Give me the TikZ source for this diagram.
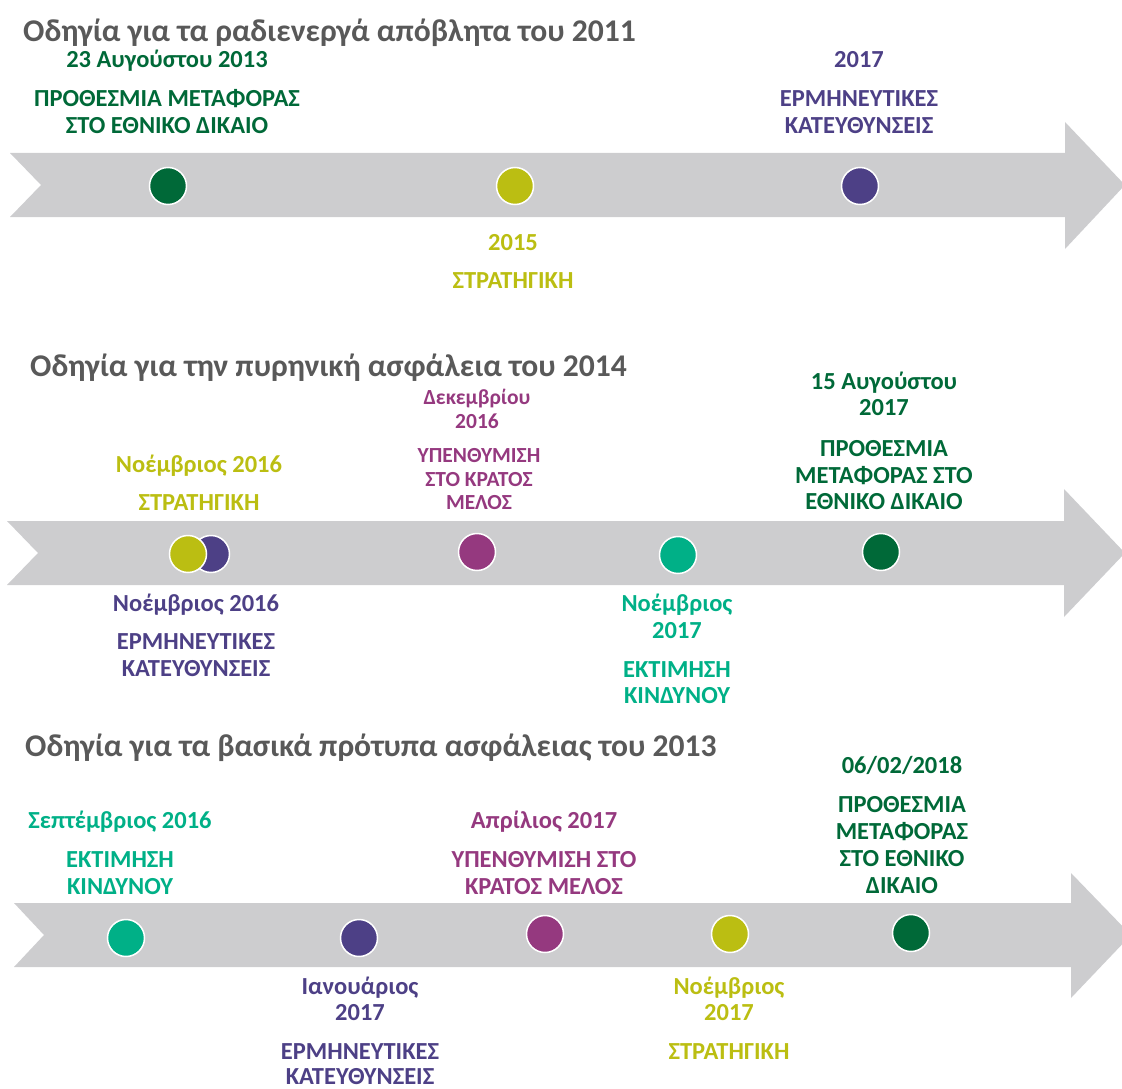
\documentclass[tikz,border=0pt]{standalone}
\usepackage{fontspec}
\setmainfont{Carlito}
\definecolor{dkgreen}{RGB}{0,105,56}
\definecolor{olive}{RGB}{187,190,18}
\definecolor{navy}{RGB}{77,64,134}
\definecolor{magen}{RGB}{149,57,127}
\definecolor{teal}{RGB}{0,176,135}
\definecolor{bandgray}{RGB}{205,205,207}
\definecolor{titlegray}{RGB}{89,89,89}
\begin{document}
\begin{tikzpicture}[x=1pt,y=-1pt,
  band/.style={fill=bandgray,draw=none},
  dot/.style={circle,minimum size=37pt,inner sep=0pt,draw=white,line width=1.5pt},
  lab/.style={font=\fontsize{24.5}{28}\selectfont\bfseries,anchor=base,inner sep=0pt},
  sml/.style={lab,font=\fontsize{21.5}{25}\selectfont\bfseries},
  ttl/.style={font=\fontsize{31.6}{36}\selectfont\bfseries,text=titlegray,anchor=base west,inner sep=0pt}]
\useasboundingbox (0,0) rectangle (1122,1089);

% ---------- arrow 1 ----------
\fill[band] (10,153) -- (1065,153) -- (1065,122) -- (1125,185) -- (1065,249) -- (1065,217) -- (10,217) -- (41,185) -- cycle;
\node[ttl] (t1) at (23,42) {Οδηγία για τα ραδιενεργά απόβλητα του 2011};
\node[dot,fill=dkgreen] (a1) at (168,186) {};
\node[dot,fill=olive] (a2) at (515,186) {};
\node[dot,fill=navy] (a3) at (860,186) {};
\node[lab,text=dkgreen] (a1d) at (167,68) {23 Αυγούστου 2013};
\node[lab,text=dkgreen] (a1t1) at (167,107) {ΠΡΟΘΕΣΜΙΑ ΜΕΤΑΦΟΡΑΣ};
\node[lab,text=dkgreen] (a1t2) at (167,134) {ΣΤΟ ΕΘΝΙΚΟ ΔΙΚΑΙΟ};
\node[lab,text=olive] (a2d) at (513,250) {2015};
\node[lab,text=olive] (a2t1) at (513,288) {ΣΤΡΑΤΗΓΙΚΗ};
\node[lab,text=navy] (a3d) at (859,68) {2017};
\node[lab,text=navy] (a3t1) at (859,107) {ΕΡΜΗΝΕΥΤΙΚΕΣ};
\node[lab,text=navy] (a3t2) at (859,134) {ΚΑΤΕΥΘΥΝΣΕΙΣ};

% ---------- arrow 2 ----------
\fill[band] (7,521) -- (1064,521) -- (1064,489) -- (1125,553) -- (1064,617) -- (1064,585) -- (7,585) -- (38,553) -- cycle;
\node[ttl] (t2) at (30,376) {Οδηγία για την πυρηνική ασφάλεια του 2014};
\node[dot,fill=navy] (b2) at (211,554) {};
\node[dot,fill=olive] (b1) at (188,554) {};
\node[dot,fill=magen] (b3) at (477,552) {};
\node[dot,fill=teal] (b4) at (678,555) {};
\node[dot,fill=dkgreen] (b5) at (881,552) {};
\node[lab,text=olive] (b1d) at (199,472) {Νοέμβριος 2016};
\node[lab,text=olive] (b1t1) at (199,510) {ΣΤΡΑΤΗΓΙΚΗ};
\node[sml,text=magen] (b3d1) at (477,404) {Δεκεμβρίου};
\node[sml,text=magen] (b3d2) at (477,428) {2016};
\node[sml,text=magen] (b3t1) at (479,462) {ΥΠΕΝΘΥΜΙΣΗ};
\node[sml,text=magen] (b3t2) at (479,486) {ΣΤΟ ΚΡΑΤΟΣ};
\node[sml,text=magen] (b3t3) at (479,509) {ΜΕΛΟΣ};
\node[lab,text=dkgreen] (b5d1) at (884,389) {15 Αυγούστου};
\node[lab,text=dkgreen] (b5d2) at (884,415) {2017};
\node[lab,text=dkgreen] (b5t1) at (884,456) {ΠΡΟΘΕΣΜΙΑ};
\node[lab,text=dkgreen] (b5t2) at (884,483) {ΜΕΤΑΦΟΡΑΣ ΣΤΟ};
\node[lab,text=dkgreen] (b5t3) at (884,509) {ΕΘΝΙΚΟ ΔΙΚΑΙΟ};
\node[lab,text=navy] (b2d) at (196,611) {Νοέμβριος 2016};
\node[lab,text=navy] (b2t1) at (196,649) {ΕΡΜΗΝΕΥΤΙΚΕΣ};
\node[lab,text=navy] (b2t2) at (196,676) {ΚΑΤΕΥΘΥΝΣΕΙΣ};
\node[lab,text=teal] (b4d1) at (677,611) {Νοέμβριος};
\node[lab,text=teal] (b4d2) at (677,638) {2017};
\node[lab,text=teal] (b4t1) at (677,677) {ΕΚΤΙΜΗΣΗ};
\node[lab,text=teal] (b4t2) at (677,703) {ΚΙΝΔΥΝΟΥ};

% ---------- arrow 3 ----------
\fill[band] (14,903) -- (1071,903) -- (1071,873) -- (1131,935) -- (1071,998) -- (1071,967) -- (14,967) -- (44,935) -- cycle;
\node[ttl] (t3) at (25,756) {Οδηγία για τα βασικά πρότυπα ασφάλειας του 2013};
\node[dot,fill=teal] (c1) at (126,938) {};
\node[dot,fill=navy] (c2) at (359,938) {};
\node[dot,fill=magen] (c3) at (545,934) {};
\node[dot,fill=olive] (c4) at (730,934) {};
\node[dot,fill=dkgreen] (c5) at (911,933) {};
\node[lab,text=teal] (c1d) at (120,828) {Σεπτέμβριος 2016};
\node[lab,text=teal] (c1t1) at (120,867) {ΕΚΤΙΜΗΣΗ};
\node[lab,text=teal] (c1t2) at (120,894) {ΚΙΝΔΥΝΟΥ};
\node[lab,text=magen] (c3d) at (544,828) {Απρίλιος 2017};
\node[lab,text=magen] (c3t1) at (544,867) {ΥΠΕΝΘΥΜΙΣΗ ΣΤΟ};
\node[lab,text=magen] (c3t2) at (544,894) {ΚΡΑΤΟΣ ΜΕΛΟΣ};
\node[lab,text=dkgreen] (c5d) at (902,773) {06/02/2018};
\node[lab,text=dkgreen] (c5t1) at (902,812) {ΠΡΟΘΕΣΜΙΑ};
\node[lab,text=dkgreen] (c5t2) at (902,839) {ΜΕΤΑΦΟΡΑΣ};
\node[lab,text=dkgreen] (c5t3) at (902,866) {ΣΤΟ ΕΘΝΙΚΟ};
\node[lab,text=dkgreen] (c5t4) at (902,893) {ΔΙΚΑΙΟ};
\node[lab,text=navy] (c2d1) at (360,994) {Ιανουάριος};
\node[lab,text=navy] (c2d2) at (360,1020) {2017};
\node[lab,text=navy] (c2t1) at (360,1059) {ΕΡΜΗΝΕΥΤΙΚΕΣ};
\node[lab,text=navy] (c2t2) at (360,1084) {ΚΑΤΕΥΘΥΝΣΕΙΣ};
\node[lab,text=olive] (c4d1) at (729,994) {Νοέμβριος};
\node[lab,text=olive] (c4d2) at (729,1020) {2017};
\node[lab,text=olive] (c4t1) at (729,1059) {ΣΤΡΑΤΗΓΙΚΗ};
\end{tikzpicture}
\end{document}
